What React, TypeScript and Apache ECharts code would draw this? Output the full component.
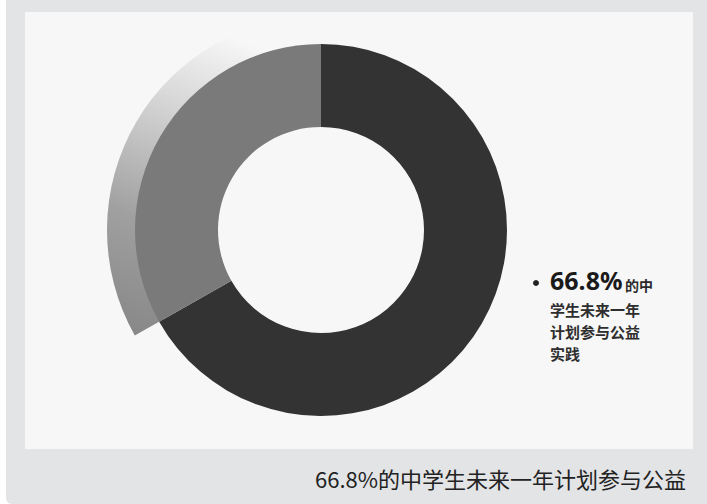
import React, { useEffect, useRef } from "react";
import * as echarts from "echarts";

const categories = ["计划参与公益实践", "其他"];
const values = [66.8, 33.2];
const labelHead = "的中";
const labelLines = ["学生未来一年", "计划参与公益", "实践"];
const caption = "66.8%的中学生未来一年计划参与公益";

export default function App() {
  const ref = useRef<HTMLDivElement>(null);
  useEffect(() => {
    if (!ref.current) return;
    const chart = echarts.init(ref.current, null, { renderer: "svg" });
    const cx = 321;
    const cy = 230;
    const option: any = {
      animation: false,
      backgroundColor: "#ffffff",
      graphic: [
        {
          type: "rect",
          z: -10,
          shape: { x: 6, y: 0, width: 701, height: 504, r: [0, 0, 0, 6] },
          style: { fill: "#e3e4e6" },
        },
        {
          type: "rect",
          z: -9,
          shape: { x: 25, y: 12, width: 668, height: 437 },
          style: { fill: "#f7f7f7" },
        },
        {
          type: "circle",
          shape: { cx: 536, cy: 283, r: 3 },
          style: { fill: "#222" },
        },
        {
          type: "text",
          x: 550,
          y: 280,
          style: {
            text: `${values[0]}%`,
            font: "bold 25px 'Noto Sans', sans-serif",
            fill: "#1a1a1a",
            verticalAlign: "middle",
          },
        },
        {
          type: "text",
          x: 625,
          y: 285,
          style: {
            text: labelHead,
            font: "bold 14px 'Noto Sans CJK SC'",
            fill: "#2a2a2a",
            verticalAlign: "middle",
          },
        },
        ...labelLines.map((t, i) => ({
          type: "text",
          x: 550,
          y: 309 + i * 22,
          style: {
            text: t,
            font: "bold 15px 'Noto Sans CJK SC'",
            fill: "#2e2e2e",
            verticalAlign: "middle",
          },
        })),
        {
          type: "text",
          x: 686,
          y: 478,
          style: {
            text: caption,
            font: "22px 'Noto Sans CJK SC'",
            fill: "#222",
            align: "right",
            verticalAlign: "middle",
          },
        },
      ],
      series: [
        {
          type: "pie",
          silent: true,
          center: [cx, cy],
          radius: [180, 214],
          startAngle: 90,
          clockwise: true,
          label: { show: false },
          labelLine: { show: false },
          itemStyle: { borderWidth: 0 },
          z: 1,
          data: [
            { name: categories[0], value: values[0], itemStyle: { color: "rgba(0,0,0,0)" } },
            {
              name: categories[1],
              value: values[1],
              itemStyle: {
                color: new echarts.graphic.LinearGradient(130, 332, 240, 40, [
                  { offset: 0, color: "#888888" },
                  { offset: 0.35, color: "#a0a0a0" },
                  { offset: 0.72, color: "#d4d4d4" },
                  { offset: 1, color: "#f7f7f7" },
                ], true),
              },
            },
          ],
        },
        {
          type: "pie",
          silent: true,
          center: [cx, cy],
          radius: [103, 186],
          startAngle: 90,
          clockwise: true,
          label: { show: false },
          labelLine: { show: false },
          itemStyle: { borderWidth: 0 },
          z: 2,
          data: [
            { name: categories[0], value: values[0], itemStyle: { color: "#333333" } },
            { name: categories[1], value: values[1], itemStyle: { color: "#7a7a7a" } },
          ],
        },
      ],
    };
    chart.setOption(option);
    return () => chart.dispose();
  }, []);
  return (
    <div
      ref={ref}
      style={{ position: "fixed", left: 0, top: 0, width: 707, height: 504 }}
    />
  );
}
